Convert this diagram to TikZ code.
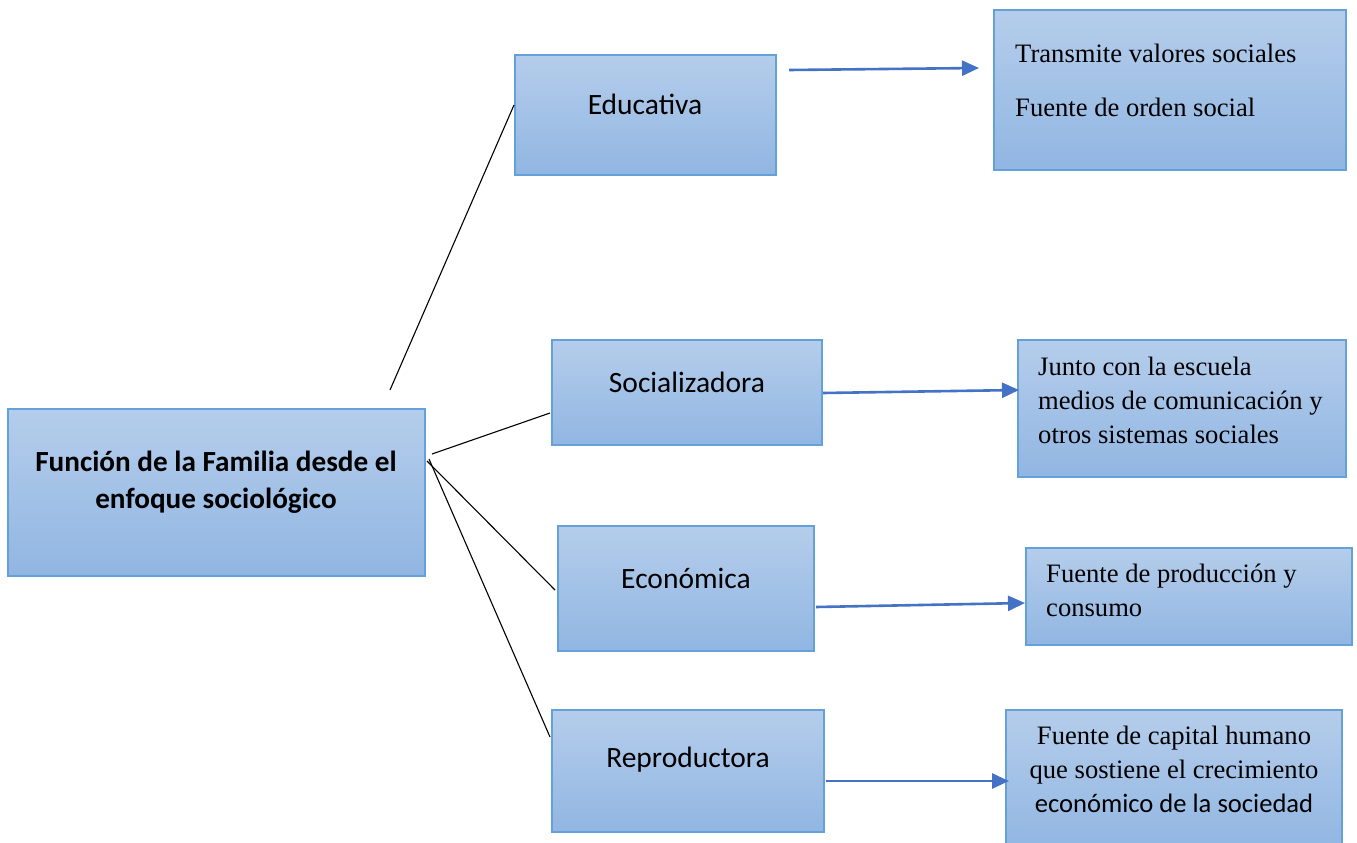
\documentclass[tikz,border=0pt]{standalone}
\usepackage{fontspec}
\setmainfont{Liberation Serif}
\newfontfamily\calib{Carlito}
\usetikzlibrary{arrows.meta}
\definecolor{boxtop}{RGB}{181,205,235}
\definecolor{boxbot}{RGB}{145,182,226}
\definecolor{boxline}{RGB}{100,160,218}
\definecolor{arrowblue}{RGB}{68,114,196}
\tikzset{
  box/.style={draw=boxline, line width=1.1pt, top color=boxtop, bottom color=boxbot, inner sep=0pt, outer sep=0pt},
  lab/.style={font=\calib\fontsize{29.5}{34}\selectfont, inner sep=0pt},
  mainlab/.style={font=\calib\bfseries\fontsize{29.2}{37}\selectfont, align=center, inner sep=0pt},
  rtxt/.style={font=\fontsize{26.6}{34}\selectfont, align=left, inner sep=0pt, anchor=west},
  conn/.style={line width=1.1pt, black},
  arr/.style={line width=2.6pt, arrowblue, -{Triangle[length=17pt,width=15pt]}}
}
\begin{document}
\begin{tikzpicture}[x=1pt,y=-1pt]
\useasboundingbox (0,0) rectangle (1357,843);
% boxes
\node[box, minimum width=417pt, minimum height=167pt] (main) at (216.5,492.5) {};
\node[box, minimum width=261pt, minimum height=120pt] (edu) at (645.5,115) {};
\node[box, minimum width=270pt, minimum height=105pt] (soc) at (687,392.5) {};
\node[box, minimum width=256pt, minimum height=125pt] (eco) at (686,588.5) {};
\node[box, minimum width=272pt, minimum height=122pt] (rep) at (688,771) {};
\node[box, minimum width=352pt, minimum height=160pt] (r1) at (1170,90) {};
\node[box, minimum width=328pt, minimum height=137pt] (r2) at (1182,408.5) {};
\node[box, minimum width=326pt, minimum height=97pt] (r3) at (1189,596.5) {};
\node[box, minimum width=336pt, minimum height=140pt] (r4) at (1174,780) {};
% labels
\node[mainlab] (mainT) at (216,482) {Función de la Familia desde el\\enfoque sociológico};
\node[lab] (eduT) at (645,104) {Educativa};
\node[lab] (socT) at (687,382) {Socializadora};
\node[lab] (ecoT) at (686,578) {Económica};
\node[lab] (repT) at (688,760) {Reproductora};
\node[rtxt] (r1a) at (1015,53) {Transmite valores sociales};
\node[rtxt] (r1b) at (1015,107) {Fuente de orden social};
\node[rtxt] (r2T) at (1038,400) {Junto con la escuela\\medios de comunicación y\\otros sistemas sociales};
\node[rtxt] (r3T) at (1046,590) {Fuente de producción y\\consumo};
\node[font=\fontsize{26.6}{34}\selectfont, align=center, inner sep=0pt] (r4T) at (1174,769) {Fuente de capital humano\\que sostiene el crecimiento\\{\calib\fontsize{26.6}{34}\selectfont económico de la sociedad}};
% connector end points
\coordinate (c1a) at (390,390); \coordinate (c1b) at (514,105);
\coordinate (c2a) at (432,454); \coordinate (c2b) at (550,413);
\coordinate (c3a) at (427,461); \coordinate (c3b) at (555,590);
\coordinate (c4a) at (429,459); \coordinate (c4b) at (550,737);
\draw[conn] (c1a) -- (c1b);
\draw[conn] (c2a) -- (c2b);
\draw[conn] (c3a) -- (c3b);
\draw[conn] (c4a) -- (c4b);
% arrows
\coordinate (a1a) at (789,70); \coordinate (a1b) at (979,68);
\coordinate (a2a) at (823,393); \coordinate (a2b) at (1019,390);
\coordinate (a3a) at (816,607); \coordinate (a3b) at (1025,603);
\coordinate (a4a) at (826,781); \coordinate (a4b) at (1009,781);
\draw[arr] (a1a) -- (a1b);
\draw[arr] (a2a) -- (a2b);
\draw[arr] (a3a) -- (a3b);
\draw[arr] (a4a) -- (a4b);
\end{tikzpicture}
\end{document}
